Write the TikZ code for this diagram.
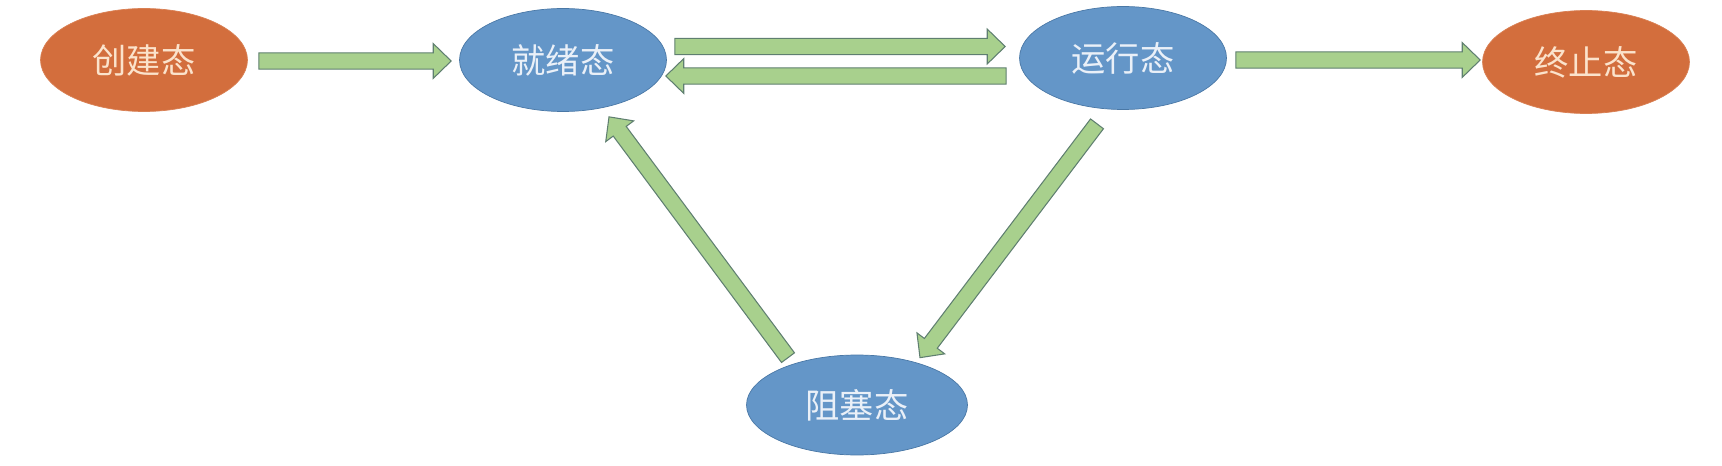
\documentclass[tikz,border=0pt]{standalone}
\usepackage{fontspec}
\newfontfamily\cjk{Noto Sans CJK SC}
\usetikzlibrary{shapes.geometric,calc}
\definecolor{orangefill}{HTML}{D36E3D}
\definecolor{orangeline}{HTML}{D98054}
\definecolor{orangetext}{HTML}{FBE3CC}
\definecolor{bluefill}{HTML}{6496C8}
\definecolor{blueline}{HTML}{4A78A6}
\definecolor{bluetext}{HTML}{EAF0F8}
\definecolor{arrowfill}{HTML}{A8D08D}
\definecolor{arrowline}{HTML}{5F7F70}
\begin{document}
\begin{tikzpicture}[x=0.02cm, y=-0.02cm,
    state/.style={ellipse, inner sep=0pt, minimum width=4.14cm, minimum height=2.06cm,
        font=\cjk\fontsize{19.5}{22}\selectfont},
    endstate/.style={state, fill=orangefill, draw=orangeline, text=orangetext},
    midstate/.style={state, fill=bluefill, draw=blueline, text=bluetext},
    blockarrow/.style={draw=arrowline, fill=arrowfill, line width=0.6pt, line join=miter,
        to path={let \p1=(\tikztostart), \p2=(\tikztotarget),
            \n1={atan2(\y2-\y1,\x2-\x1)}, \n3={veclen(\x2-\x1,\y2-\y1)-10.2pt} in
            ($(\p1)+(\n1+90:4.6pt)$) -- ($(\p1)+(\n1+90:4.6pt)+(\n1:\n3)$)
            -- ($(\p1)+(\n1+90:9.9pt)+(\n1:\n3)$) -- (\p2)
            -- ($(\p1)+(\n1-90:9.9pt)+(\n1:\n3)$) -- ($(\p1)+(\n1-90:4.6pt)+(\n1:\n3)$)
            -- ($(\p1)+(\n1-90:4.6pt)$) -- cycle}}]
    \useasboundingbox (0,0) rectangle (1722,466);
    % states
    \node[endstate] (create) at (144,60) {创建态};
    \node[midstate] (ready) at (563,60) {就绪态};
    \node[midstate] (run) at (1123,58) {运行态};
    \node[endstate] (exit) at (1586,62) {终止态};
    \node[midstate, minimum width=4.42cm, minimum height=2cm] (block) at (857,405) {阻塞态};
    % arrow ends
    \coordinate (a1) at ($(create.east)+(11,1)$);
    \coordinate (b1) at ($(ready.west)+(-8,1)$);
    \coordinate (a2) at ($(ready.east)+(8,-13.5)$);
    \coordinate (b2) at ($(run.west)+(-14,-11.5)$);
    \coordinate (a3) at ($(run.west)+(-13,18)$);
    \coordinate (b3) at ($(ready.east)+(-1,16)$);
    \coordinate (a4) at ($(run.east)+(9,2)$);
    \coordinate (b4) at ($(exit.west)+(-2,-2)$);
    \coordinate (a5) at ($(run.south)+(-26,14)$);
    \coordinate (b5) at ($(block.north)+(63,3)$);
    \coordinate (a6) at ($(block.north)+(-69,3)$);
    \coordinate (b6) at ($(ready.south)+(46,5)$);
    \draw[blockarrow] (a1) to (b1);
    \draw[blockarrow] (a2) to (b2);
    \draw[blockarrow] (a3) to (b3);
    \draw[blockarrow] (a4) to (b4);
    \draw[blockarrow] (a5) to (b5);
    \draw[blockarrow] (a6) to (b6);
\end{tikzpicture}
\end{document}
